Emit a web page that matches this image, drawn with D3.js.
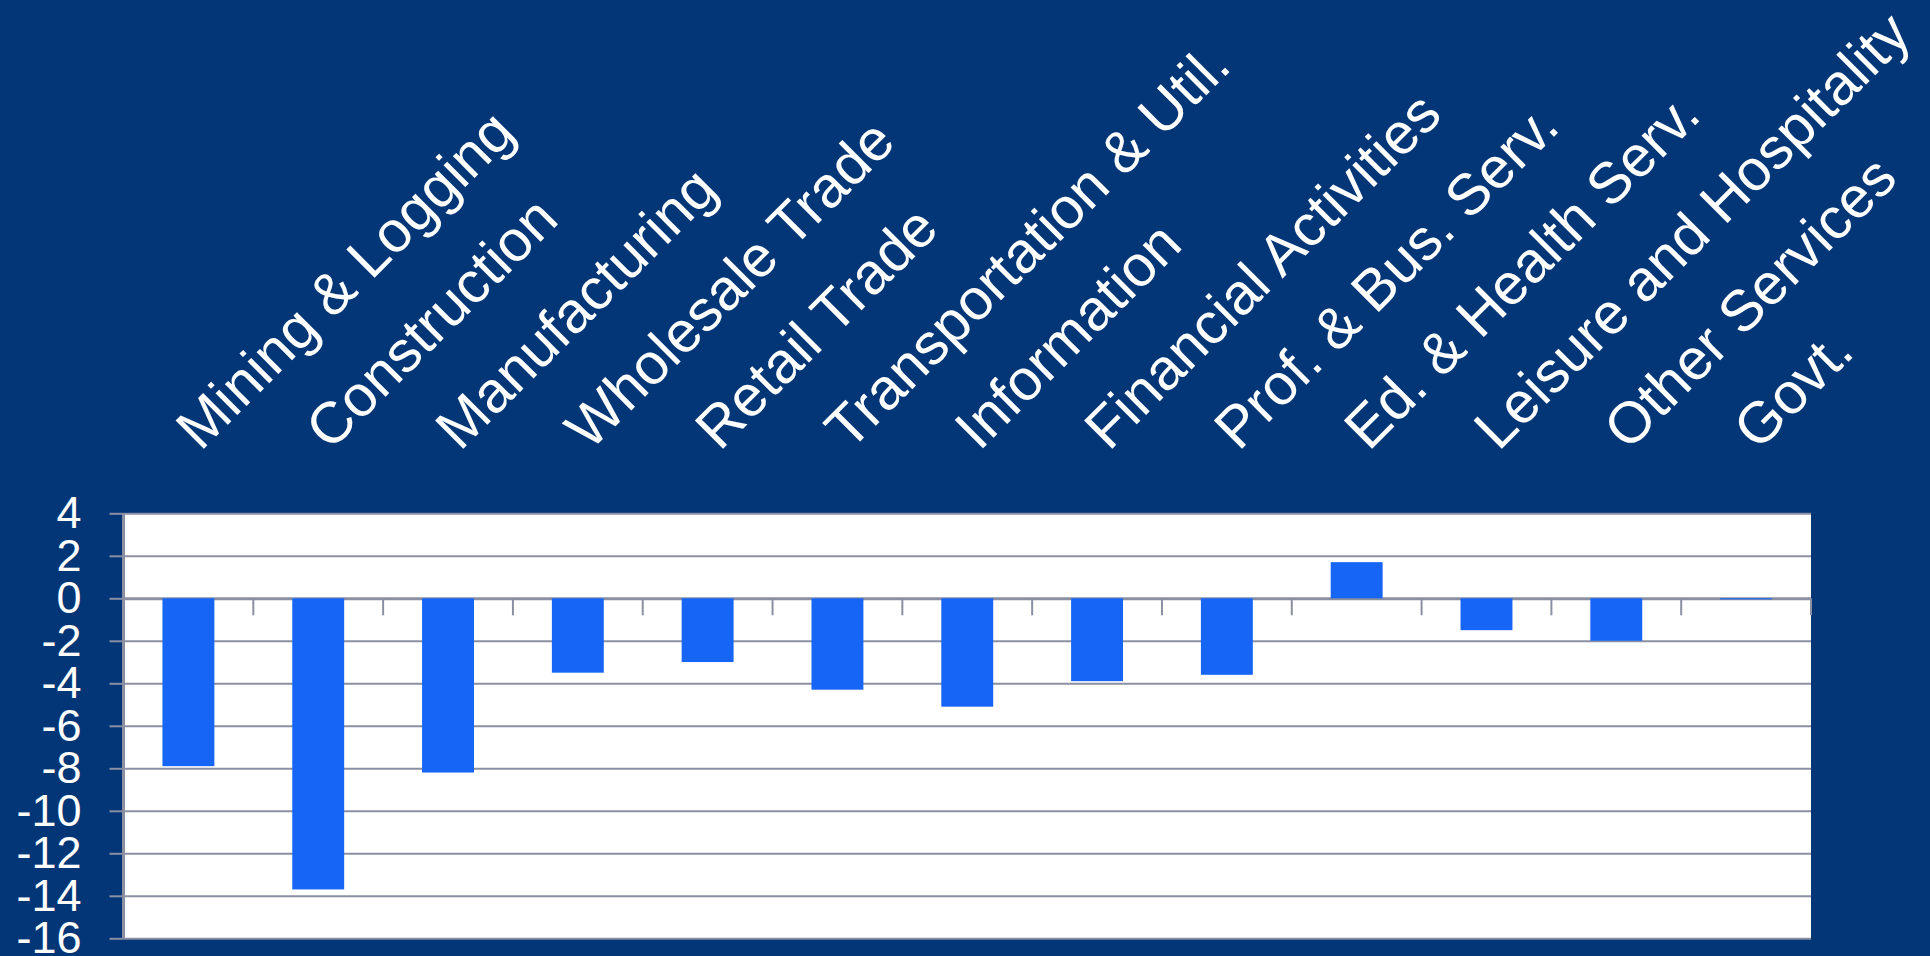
<!DOCTYPE html>
<html>

<head>
  <meta charset="utf-8">
  <title>Job changes by sector</title>
  <script type="text/javascript" src="https://cdn.jsdelivr.net/npm/d3@7"></script>
  <style type="text/css">
    body { margin: 0; background: #033677; }
    svg { display: block; }
  </style>
</head>

<body>
  <script type="text/javascript">

    // sectors and percent change
    const categories = ["Mining & Logging", "Construction", "Manufacturing", "Wholesale Trade",
      "Retail Trade", "Transportation & Util.", "Information", "Financial Activities",
      "Prof. & Bus. Serv.", "Ed. & Health Serv.", "Leisure and Hospitality",
      "Other Services", "Govt."];
    const values = [-7.9, -13.7, -8.2, -3.5, -3.0, -4.3, -5.1, -3.9, -3.6, 1.7, -1.5, -2.0, -0.05];
    const yTicks = [4, 2, 0, -2, -4, -6, -8, -10, -12, -14, -16];

    const w = 1930;
    const h = 956;
    const plotLeft = 123.5, plotRight = 1811, plotTop = 513.3, plotBottom = 938.3;

    const svg = d3.select("body")
      .append("svg")
      .attr("width", w)
      .attr("height", h);

    // plot background
    svg.append("rect")
      .attr("x", plotLeft)
      .attr("y", plotTop)
      .attr("width", plotRight - plotLeft)
      .attr("height", plotBottom - plotTop)
      .attr("fill", "#ffffff");

    const x = d3.scaleBand()
      .domain(categories)
      .range([plotLeft, plotRight])
      .paddingInner(0.6)
      .paddingOuter(0.3);

    const y = d3.scaleLinear()
      .domain([-16, 4])
      .range([plotBottom, plotTop]);

    // gridlines
    svg.append("g")
      .attr("transform", "translate(" + plotLeft + ",0)")
      .call(d3.axisLeft(y).tickValues(yTicks).tickSize(-(plotRight - plotLeft)).tickFormat(""))
      .call(g => g.select(".domain").remove())
      .call(g => g.selectAll("line")
        .attr("stroke", "#8b8fa2")
        .attr("stroke-width", d => d === 0 ? 3 : 2));

    // bars
    svg.selectAll("rect.bar")
      .data(values)
      .enter()
      .append("rect")
      .attr("class", "bar")
      .attr("x", (d, i) => x(categories[i]))
      .attr("width", x.bandwidth())
      .attr("y", d => y(Math.max(0, d)))
      .attr("height", d => Math.max(1, Math.abs(y(d) - y(0))))
      .attr("fill", "#1765f4");

    // category tick marks on the zero line
    svg.selectAll("line.ctick")
      .data(d3.range(1, categories.length + 1))
      .enter()
      .append("line")
      .attr("class", "ctick")
      .attr("x1", k => plotLeft + k * x.step())
      .attr("x2", k => plotLeft + k * x.step())
      .attr("y1", y(0))
      .attr("y2", y(0) + 17)
      .attr("stroke", "#8b8fa2")
      .attr("stroke-width", 2);

    // y axis (plain hyphen for negatives, like the original)
    svg.append("g")
      .attr("transform", "translate(" + plotLeft + ",0)")
      .call(d3.axisLeft(y).tickValues(yTicks).tickSize(14).tickPadding(28).tickFormat(d => String(d)))
      .call(g => g.select(".domain")
        .attr("stroke", "#8b8fa2")
        .attr("stroke-width", 3)
        .attr("d", "M0," + plotTop + "V" + plotBottom))
      .call(g => g.selectAll("line")
        .attr("stroke", "#8b8fa2")
        .attr("stroke-width", 2))
      .call(g => g.selectAll("text")
        .attr("fill", "#ffffff")
        .attr("font-family", "Liberation Sans, Arial, sans-serif")
        .attr("font-size", 45));

    // rotated category labels above the plot
    svg.selectAll("text.cat")
      .data(categories)
      .enter()
      .append("text")
      .attr("class", "cat")
      .attr("transform", d => "translate(" + (x(d) + x.bandwidth() / 2 + 12) + ",452) rotate(-45)")
      .attr("fill", "#ffffff")
      .attr("font-family", "Liberation Sans, Arial, sans-serif")
      .attr("font-size", 58)
      .text(d => d);

  </script>
</body>

</html>
